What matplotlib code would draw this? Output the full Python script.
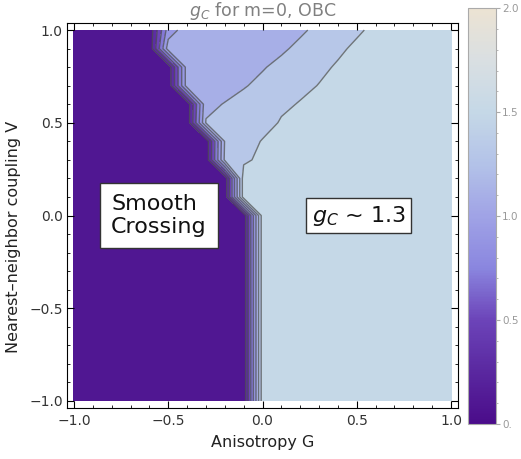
import numpy as np
import matplotlib.pyplot as plt
from matplotlib.colors import LinearSegmentedColormap, Normalize
from matplotlib.cm import ScalarMappable
from matplotlib.ticker import MultipleLocator

# scan grid (anisotropy G along x, coupling V along y)
G = np.linspace(-1, 1, 21)
V = np.linspace(-1, 1, 21)

# readings per row V = 0.0, 0.1, ..., 1.0 (rows below V=0 look like V=0)
dark_edge = [-0.1, -0.2, -0.2, -0.3, -0.3, -0.4, -0.4, -0.5, -0.5, -0.6, -0.6]
c12 = [np.nan] * 6 + [-0.22, -0.08, 0.02, 0.14, 0.24]      # where g_C crosses 1.2
c14 = [np.nan, np.nan, np.nan, -0.07, -0.02, 0.07, 0.18, 0.29, 0.37, 0.45, 0.54]  # 1.4
g_dark = 0.05            # smooth crossing, no g_C
g_low, g_mid, g_high = 1.1, 1.215, 1.5
notch = (-0.5, 1.0, 0.9)  # single lower point at the top edge

Z = np.full((len(V), len(G)), g_high)
for i, v in enumerate(V):
    k = max(int(round(v * 10)), 0)
    e, a, b = dark_edge[k], c12[k], c14[k]
    if not np.isnan(a):
        row = np.interp(G, [a - 0.15, a, b, b + 0.15], [g_low, 1.2, 1.4, g_high])
    elif not np.isnan(b):
        row = np.interp(G, [b - 0.15, b, b + 0.15], [g_mid, 1.4, g_high])
    else:
        row = np.full(len(G), g_high)
    row[G <= e + 1e-9] = g_dark
    Z[i] = row
Z[np.isclose(V, notch[1]), np.isclose(G, notch[0])] = notch[2]

# colours
cb_pos = [0.0, 0.125, 0.25, 0.375, 0.5, 0.625, 0.75, 0.875, 1.0]
cb_col = ['#4a0c8a', '#5a28a0', '#6c44b9', '#8a86df', '#a0a3e6',
          '#b3c2e8', '#c5d8e7', '#d9dfe2', '#ece3d3']
cmap = LinearSegmentedColormap.from_list('gc', list(zip(cb_pos, cb_col)))
levels = np.linspace(0, 2, 11)

fig = plt.figure(figsize=(5.21, 4.59), dpi=100)
ax = fig.add_axes([0.1286, 0.1111, 0.7505, 0.8388])
ax.contourf(G, V, Z, levels=levels, cmap=cmap, vmin=0, vmax=2)
ax.contour(G, V, Z, levels=levels[1:-1], colors='#4a4a4a', linewidths=1.0, alpha=0.7)

ax.set_xlim(-1.037, 1.037)
ax.set_ylim(-1.038, 1.038)
ax.set_xticks([-1, -0.5, 0, 0.5, 1])
ax.set_yticks([-1, -0.5, 0, 0.5, 1])
ax.xaxis.set_minor_locator(MultipleLocator(0.1))
ax.yaxis.set_minor_locator(MultipleLocator(0.1))
ax.tick_params(which='both', direction='in', top=True, right=True, labelsize=10,
               labelcolor='#333333', pad=3)
ax.tick_params(axis='x', pad=4.5)
ax.tick_params(which='major', length=5)
ax.tick_params(which='minor', length=2.5)

ax.set_title(r'$g_C$ for m=0, OBC', color='#808080', fontsize=12.5, pad=5)
ax.set_xlabel('Anisotropy G', fontsize=11.5, color='#222222', labelpad=5)
ax.set_ylabel('Nearest\u2013neighbor coupling V', fontsize=11.5, color='#222222')
ax.yaxis.set_label_coords(-0.118, 0.444)

ax.text(-0.55, 0.0, 'Smooth\nCrossing', ha='center', va='center', multialignment='left',
        fontsize=16, color='#111111',
        bbox=dict(boxstyle='square,pad=0.5', fc='white', ec='#333333', lw=1))
ax.text(0.51, 0.0, r'$g_C$ ~ 1.3', ha='center', va='center', fontsize=16, color='#111111',
        bbox=dict(boxstyle='square,pad=0.25', fc='white', ec='#333333', lw=1))

cax = fig.add_axes([0.898, 0.0763, 0.0537, 0.906])
cb = fig.colorbar(ScalarMappable(norm=Normalize(0, 2), cmap=cmap), cax=cax)
cb.set_ticks([0, 0.5, 1.0, 1.5, 2.0])
cb.set_ticklabels(['0.', '0.5', '1.0', '1.5', '2.0'])
cb.ax.yaxis.set_minor_locator(MultipleLocator(0.1))
cb.ax.tick_params(which='both', colors='#aaaaaa', labelcolor='#999999', labelsize=7.5, pad=1.5)
cb.ax.tick_params(which='major', length=3)
cb.ax.tick_params(which='minor', length=1.5)
cb.outline.set_edgecolor('#aaaaaa')

plt.savefig('out.png', dpi=100)
